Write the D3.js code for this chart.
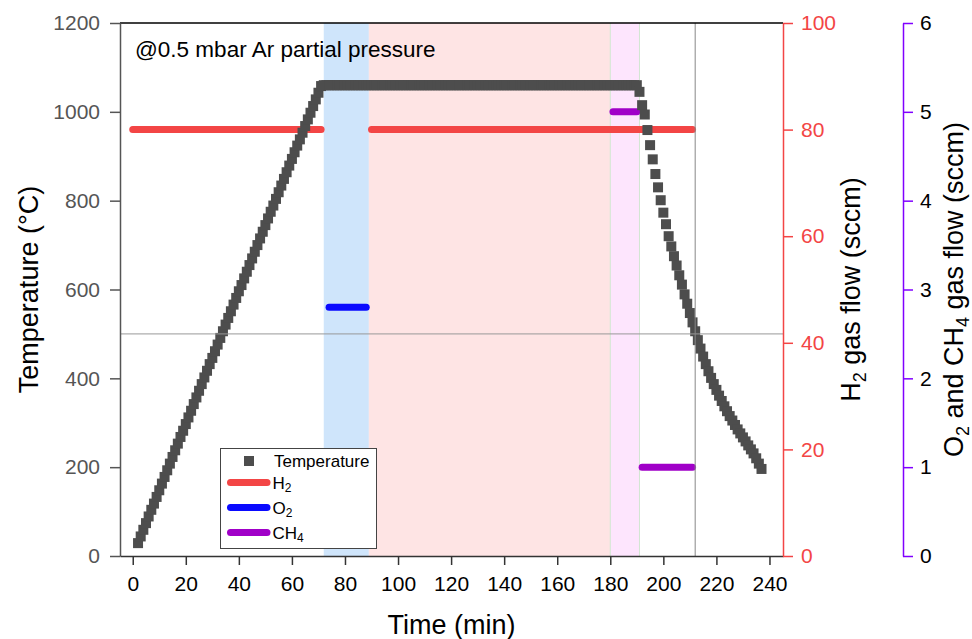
<!DOCTYPE html>
<html>
<head>
<meta charset="utf-8">
<script src="https://cdn.jsdelivr.net/npm/d3@7"></script>
<style>
  body { margin: 0; background: #fff; }
  text { font-family: "Liberation Sans", Arial, sans-serif; }
</style>
</head>
<body>
<script>
// logged furnace temperature, one reading per minute starting at minute 2
const startMinute = 2;
const temperature = [
  // heating ramp, min 2-71
  29, 44, 59, 74, 89, 104, 118, 133, 148, 163,
  178, 193, 208, 223, 238, 253, 268, 282, 297, 312,
  327, 342, 357, 372, 387, 402, 417, 432, 446, 461,
  476, 491, 506, 521, 536, 551, 566, 581, 596, 610,
  625, 640, 655, 670, 685, 700, 715, 730, 745, 760,
  775, 789, 804, 819, 834, 849, 864, 879, 894, 909,
  924, 938, 953, 968, 983, 998, 1013, 1028, 1043, 1058,
  // hold, min 72-190
  1060, 1060, 1060, 1060, 1060, 1060, 1060, 1060, 1060, 1060,
  1060, 1060, 1060, 1060, 1060, 1060, 1060, 1060, 1060, 1060,
  1060, 1060, 1060, 1060, 1060, 1060, 1060, 1060, 1060, 1060,
  1060, 1060, 1060, 1060, 1060, 1060, 1060, 1060, 1060, 1060,
  1060, 1060, 1060, 1060, 1060, 1060, 1060, 1060, 1060, 1060,
  1060, 1060, 1060, 1060, 1060, 1060, 1060, 1060, 1060, 1060,
  1060, 1060, 1060, 1060, 1060, 1060, 1060, 1060, 1060, 1060,
  1060, 1060, 1060, 1060, 1060, 1060, 1060, 1060, 1060, 1060,
  1060, 1060, 1060, 1060, 1060, 1060, 1060, 1060, 1060, 1060,
  1060, 1060, 1060, 1060, 1060, 1060, 1060, 1060, 1060, 1060,
  1060, 1060, 1060, 1060, 1060, 1060, 1060, 1060, 1060, 1060,
  1060, 1060, 1060, 1060, 1060, 1060, 1060, 1060, 1060,
  // cooling, min 191-237
  1045, 1015, 994, 959, 925, 893, 860, 830, 801, 773,
  747, 720, 697, 675, 654, 632, 611, 589, 568, 547,
  526, 506, 486, 467, 449, 432, 416, 401, 387, 374,
  361, 349, 337, 326, 315, 305, 295, 285, 276, 267,
  258, 249, 240, 231, 220, 208, 196
];

// gas flows (sccm) as [start min, end min, flow]
const h2Flow = [[0, 71, 80], [90, 211, 80]];
const o2Flow = [[74, 88, 2.8]];
const ch4Flow = [[181, 190, 5], [192, 211, 1]];

// process stages (min)
const stages = [[72, 89], [89, 180], [180, 191]];
const stageColors = ["#cfe5fb", "#fee4e4", "#fde5fd"];

const refTemp = 500;
const refTime = 212;

const timeTicks = d3.range(0, 241, 20);
const tempTicks = d3.range(0, 1201, 200);
const h2Ticks = d3.range(0, 101, 20);
const gasTicks = d3.range(0, 7, 1);

const annotation = "@0.5 mbar Ar partial pressure";

// ---- layout
const W = 972, H = 639;
const plotL = 120, plotR = 783, plotT = 23, plotB = 556;
const gasAxisX = 903;

const red = "#f34545", blue = "#0a0aff", purple = "#a000c8", violet = "#8000ff";
const markerColor = "#4d4d4d";

const svg = d3.select("body").append("svg")
  .attr("width", W).attr("height", H);

const x = d3.scaleLinear().domain([-4.8, 245.1]).range([plotL, plotR]);
const yT = d3.scaleLinear().domain([0, 1200]).range([plotB, plotT]);
const yH2 = d3.scaleLinear().domain([0, 100]).range([plotB, plotT]);
const yGas = d3.scaleLinear().domain([0, 6]).range([plotB, plotT]);

// stage bands
svg.append("g").selectAll("rect")
  .data(stages)
  .enter().append("rect")
  .attr("x", d => x(d[0]))
  .attr("y", plotT)
  .attr("width", d => x(d[1]) - x(d[0]))
  .attr("height", plotB - plotT)
  .attr("fill", (d, i) => stageColors[i]);

// faint edges of the CH4 stage
svg.append("g").selectAll("line")
  .data(stages[2])
  .enter().append("line")
  .attr("x1", d => x(d)).attr("x2", d => x(d))
  .attr("y1", plotT).attr("y2", plotB)
  .attr("stroke", "#d2e6d2").attr("stroke-width", 1);

let drawFlow = (data, scale, color) => {
  svg.append("g").selectAll("line")
    .data(data)
    .enter().append("line")
    .attr("x1", d => x(d[0])).attr("x2", d => x(d[1]))
    .attr("y1", d => scale(d[2])).attr("y2", d => scale(d[2]))
    .attr("stroke", color)
    .attr("stroke-width", 7)
    .attr("stroke-linecap", "round");
}

drawFlow(h2Flow, yH2, red);
drawFlow(o2Flow, yGas, blue);
drawFlow(ch4Flow, yGas, purple);

// temperature markers
const m = 10;
svg.append("g").selectAll("rect")
  .data(temperature.map((T, i) => ({t: startMinute + i, T})))
  .enter().append("rect")
  .attr("x", d => x(d.t) - m / 2)
  .attr("y", d => yT(d.T) - m / 2)
  .attr("width", m).attr("height", m)
  .attr("fill", markerColor);

// reference lines
svg.append("line")
  .attr("x1", plotL).attr("x2", plotR)
  .attr("y1", yT(refTemp)).attr("y2", yT(refTemp))
  .attr("stroke", "#999").attr("stroke-width", 1);
svg.append("line")
  .attr("x1", x(refTime)).attr("x2", x(refTime))
  .attr("y1", plotT).attr("y2", plotB)
  .attr("stroke", "#888").attr("stroke-width", 1);

// top frame
svg.append("line")
  .attr("x1", plotL).attr("x2", plotR)
  .attr("y1", plotT).attr("y2", plotT)
  .attr("stroke", "#000").attr("stroke-width", 1.5);

let styleAxis = (g, color, labelColor) => {
  g.select(".domain").attr("stroke", color).attr("stroke-width", 1.5);
  g.selectAll(".tick line").attr("stroke", color).attr("stroke-width", 1.5);
  g.selectAll("text")
    .attr("fill", labelColor)
    .style("font-size", "21px")
    .style("font-family", "'Liberation Sans', Arial, sans-serif");
}

let minor = (axis, vals, size) => axis.tickValues(vals).tickSize(size).tickFormat("");
const fmt = d3.format("d");

// left axis
const gL = svg.append("g").attr("transform", `translate(${plotL},0)`);
gL.call(minor(d3.axisLeft(yT), d3.range(100, 1200, 200), 5));
gL.call(d3.axisLeft(yT).tickValues(tempTicks).tickFormat(fmt).tickSize(10).tickPadding(10).tickSizeOuter(0));
styleAxis(gL, "#555", "#555");

// bottom axis
const gB = svg.append("g").attr("transform", `translate(0,${plotB})`);
gB.call(minor(d3.axisBottom(x), d3.range(10, 241, 20), 5));
gB.call(d3.axisBottom(x).tickValues(timeTicks).tickFormat(fmt).tickSize(9).tickPadding(11).tickSizeOuter(0));
styleAxis(gB, "#333", "#000");

// H2 axis
const gR = svg.append("g").attr("transform", `translate(${plotR},0)`);
gR.call(minor(d3.axisRight(yH2), d3.range(10, 100, 20), 5));
gR.call(d3.axisRight(yH2).tickValues(h2Ticks).tickFormat(fmt).tickSize(10).tickPadding(8).tickSizeOuter(0));
styleAxis(gR, red, red);

// O2 / CH4 axis
const gG = svg.append("g").attr("transform", `translate(${gasAxisX},0)`);
gG.call(minor(d3.axisRight(yGas), d3.range(0.5, 6, 1), 5));
gG.call(d3.axisRight(yGas).tickValues(gasTicks).tickFormat(fmt).tickSize(10).tickPadding(7).tickSizeOuter(0));
styleAxis(gG, violet, "#000");

// axis titles
const titleSize = 27;
svg.append("text")
  .attr("x", (plotL + plotR) / 2).attr("y", 634)
  .attr("text-anchor", "middle")
  .style("font-size", titleSize + "px")
  .text("Time (min)");

svg.append("text")
  .attr("transform", `translate(38,${(plotT + plotB) / 2}) rotate(-90)`)
  .attr("text-anchor", "middle")
  .style("font-size", titleSize + "px")
  .text("Temperature (°C)");

let subTitle = (xPos, parts) => {
  const t = svg.append("text")
    .attr("transform", `translate(${xPos},${(plotT + plotB) / 2}) rotate(-90)`)
    .attr("text-anchor", "middle")
    .style("font-size", titleSize + "px");
  let shifted = false;
  parts.forEach(p => {
    const sub = p[1];
    const dy = sub ? 6 : (shifted ? -6 : 0);
    t.append("tspan")
      .attr("dy", dy)
      .style("font-size", sub ? "18px" : null)
      .text(p[0]);
    shifted = sub;
  });
}

subTitle(860, [["H", false], ["2", true], [" gas flow (sccm)", false]]);
subTitle(963, [["O", false], ["2", true], [" and CH", false], ["4", true], [" gas flow (sccm)", false]]);

// annotation
svg.append("text")
  .attr("x", 135).attr("y", 57)
  .style("font-size", "22.5px")
  .text(annotation);

// legend
const legendItems = [
  {name: "Temperature", sub: "", kind: "marker", color: markerColor},
  {name: "H", sub: "2", kind: "line", color: red},
  {name: "O", sub: "2", kind: "line", color: blue},
  {name: "CH", sub: "4", kind: "line", color: purple}
];
const legendRows = [461, 482.5, 507.5, 532.5];

const lg = svg.append("g");
lg.append("rect")
  .attr("x", 220.5).attr("y", 448.5)
  .attr("width", 156).attr("height", 100)
  .attr("fill", "#fff")
  .attr("stroke", "#444").attr("stroke-width", 1);

legendItems.forEach((d, i) => {
  const cy = legendRows[i];
  if (d.kind === "marker") {
    lg.append("rect")
      .attr("x", 249 - m / 2).attr("y", cy - m / 2)
      .attr("width", m).attr("height", m)
      .attr("fill", d.color);
  } else {
    lg.append("line")
      .attr("x1", 230.5).attr("x2", 267)
      .attr("y1", cy).attr("y2", cy)
      .attr("stroke", d.color).attr("stroke-width", 7)
      .attr("stroke-linecap", "round");
  }
  const t = lg.append("text")
    .attr("x", d.kind === "marker" ? 274 : 272.5)
    .attr("y", cy + 6)
    .style("font-size", "17px")
    .text(d.name);
  if (d.sub) {
    t.append("tspan").attr("dy", 3).style("font-size", "12px").text(d.sub);
  }
});
</script>
</body>
</html>
